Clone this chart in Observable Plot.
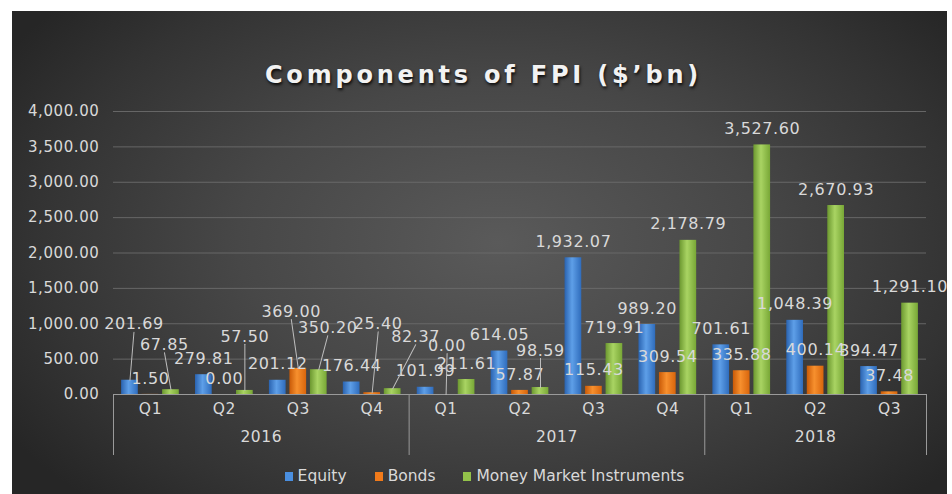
<!DOCTYPE html>
<html>
<head>
<meta charset="utf-8">
<script src="https://cdn.jsdelivr.net/npm/d3@7"></script>
<script src="https://cdn.jsdelivr.net/npm/@observablehq/plot@0.6"></script>
<style>
  html, body { margin: 0; padding: 0; background: #ffffff; }
  body { font-family: "DejaVu Sans", sans-serif; width: 952px; height: 494px; overflow: hidden; }
  #card {
    position: absolute; left: 12px; top: 11px; width: 935px; height: 483px; overflow: hidden;
    background: radial-gradient(ellipse 62% 75% at 52% 48%, #5a5a5a 0%, #474747 45%, #333333 80%, #262626 100%);
  }
  #title {
    position: absolute; left: 0; top: 50px; width: 100%; padding-left: 8px; box-sizing: border-box;
    text-align: center; font-weight: bold; font-size: 24px; line-height: 28px; letter-spacing: 3.8px;
    color: #f2f2f2; text-shadow: 1px 2px 3px rgba(0,0,0,0.85);
  }
  #chart { position: absolute; left: 0; top: 84px; }
  #legend {
    position: absolute; left: 0; top: 455px; width: 100%; padding-left: 10px; box-sizing: border-box;
    display: flex; justify-content: center; gap: 28px; font-size: 15.5px; line-height: 20px; color: #d9d9d9;
  }
  #legend span.item { display: inline-flex; align-items: center; }
  #legend span.sw { display: inline-block; width: 8px; height: 9px; margin-right: 5px; }
</style>
</head>
<body>
<div id="card">
  <div id="title">Components of FPI ($’bn)</div>
  <div id="chart"></div>
  <div id="legend"></div>
</div>
<script>
// ---- data ----
const years    = ["2016","2016","2016","2016","2017","2017","2017","2017","2018","2018","2018"];
const quarters = ["Q1","Q2","Q3","Q4","Q1","Q2","Q3","Q4","Q1","Q2","Q3"];
const series   = ["Equity", "Bonds", "Money Market Instruments"];
const equity   = [201.69, 279.81, 201.12, 176.44, 101.99, 614.05, 1932.07, 989.20, 701.61, 1048.39, 394.47];
const bonds    = [1.50, 0.00, 369.00, 25.40, 0.00, 57.87, 115.43, 309.54, 335.88, 400.14, 37.48];
const mmi      = [67.85, 57.50, 350.20, 82.37, 211.61, 98.59, 719.91, 2178.79, 3527.60, 2670.93, 1291.10];
const yTicks   = [0, 500, 1000, 1500, 2000, 2500, 3000, 3500, 4000];

// ---- styling / layout ----
const colors = [
  ["#2a63b0", "#5e9fe8", "#2f6cbc"],
  ["#c95a07", "#f7902e", "#d8650c"],
  ["#6c9830", "#a9d463", "#78a736"]
];
const legendColors = ["#4a8fe0", "#f07a1a", "#93c24a"];
const slot = 0.2774, bw = 0.226;
// manual label placements (pixel nudges) for labels that were dragged in the original
const nudges = {
  "0-0": [4, -40], "0-2": [-6.5, -29], "1-2": [0, -38], "2-1": [-7, -41], "2-2": [9, -26],
  "3-1": [6, -53], "3-2": [23, -36], "4-1": [1, -33], "5-2": [0, -21]
};

const values = [equity, bonds, mmi];
const rows = [];
quarters.forEach((q, i) => series.forEach((s, k) => rows.push({i, k, year: years[i], quarter: q, series: s, value: values[k][i]})));
const xc = d => d.i + 0.5 + (d.k - 1) * slot;
const fmt = d3.format(",.2f");

const yearNames = [...new Set(years)];
const yearCenters = yearNames.map(y => {
  const first = years.indexOf(y), last = years.lastIndexOf(y);
  return {year: y, x: (first + last + 1) / 2};
});
const seps = [...yearNames.map(y => years.indexOf(y)), years.length];

const labelColor = "#d9d9d9";
const marks = [
  Plot.gridY(yTicks.filter(d => d > 0), {stroke: "#6c6c6c", strokeOpacity: 0.9}),
  Plot.axisY(yTicks, {tickSize: 0, tickPadding: 14, tickFormat: fmt, fontSize: 15, fill: labelColor, label: null}),
];
series.forEach((s, k) => {
  marks.push(Plot.rectY(rows.filter(d => d.k === k), {
    x1: d => xc(d) - bw / 2, x2: d => xc(d) + bw / 2, y: "value", fill: `url(#g${k})`
  }));
});
marks.push(Plot.ruleY([0], {stroke: "#9a9a9a"}));
marks.push(Plot.axisX(seps, {tickSize: 61, tickFormat: () => "", stroke: "#9a9a9a", label: null}));
marks.push(Plot.text(quarters.map((q, i) => i), {
  x: i => i + 0.5, text: i => quarters[i], frameAnchor: "bottom", dy: 19, fontSize: 15.5, fill: labelColor
}));
marks.push(Plot.text(yearCenters, {
  x: "x", text: "year", frameAnchor: "bottom", dy: 47, fontSize: 15.5, fill: labelColor
}));

// default labels
const key = d => `${d.i}-${d.k}`;
marks.push(Plot.text(rows.filter(d => !nudges[key(d)]), {
  x: xc, y: "value", text: d => fmt(d.value), dy: -16, fontSize: 16, fill: labelColor
}));
// leader lines for moved labels
const moved = rows.filter(d => nudges[key(d)]);
const lead = d => { const [nx, ny] = nudges[key(d)]; return [nx, -16 + ny + 8]; };
marks.push(Plot.vector(moved, {
  x: xc, y: "value", anchor: "start", r: 0,
  length: d => Math.hypot(...lead(d)),
  rotate: d => { const [ex, ey] = lead(d); return Math.atan2(ex, -ey) * 180 / Math.PI; },
  stroke: "#bdbdbd", strokeWidth: 1
}));
moved.forEach(d => {
  const [nx, ny] = nudges[key(d)];
  marks.push(Plot.text([d], {x: xc, y: "value", text: d => fmt(d.value), dx: nx, dy: -16 + ny, fontSize: 16, fill: labelColor}));
});

const plot = Plot.plot({
  width: 935, height: 365,
  marginTop: 16, marginBottom: 66, marginLeft: 101, marginRight: 21,
  x: {type: "linear", domain: [0, quarters.length], axis: null, label: null},
  y: {domain: [0, 4000], axis: null, label: null},
  length: {domain: [0, 100], range: [0, 100]},
  style: {background: "transparent", color: labelColor, fontFamily: "DejaVu Sans, sans-serif", letterSpacing: "0.6px", overflow: "visible"},
  marks
});

const defs = d3.select(plot).insert("defs", ":first-child");
colors.forEach((c, k) => {
  const g = defs.append("linearGradient").attr("id", `g${k}`).attr("x1", "0%").attr("x2", "100%").attr("y1", "0%").attr("y2", "0%");
  g.append("stop").attr("offset", "0%").attr("stop-color", c[0]);
  g.append("stop").attr("offset", "45%").attr("stop-color", c[1]);
  g.append("stop").attr("offset", "100%").attr("stop-color", c[2]);
});
document.getElementById("chart").appendChild(plot);

const legend = d3.select("#legend");
series.forEach((s, k) => {
  const it = legend.append("span").attr("class", "item");
  it.append("span").attr("class", "sw").style("background", legendColors[k]);
  it.append("span").text(s);
});
</script>
</body>
</html>
